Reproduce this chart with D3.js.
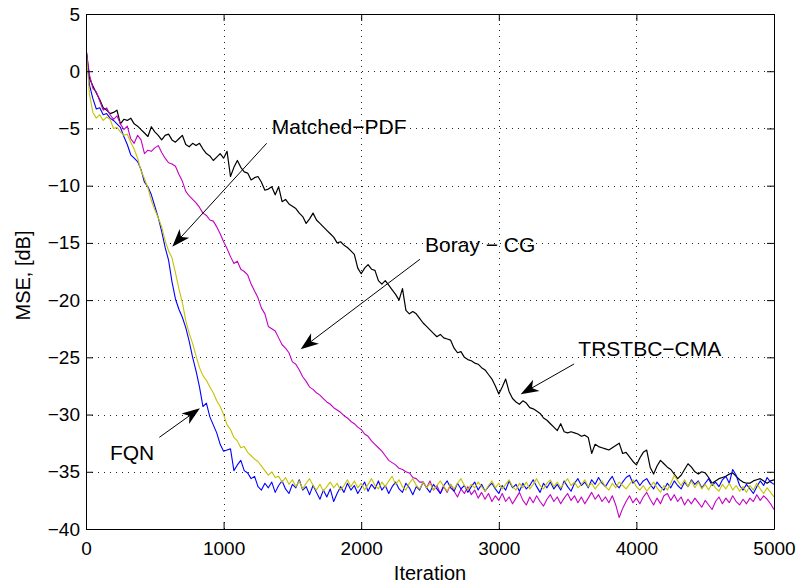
<!DOCTYPE html>
<html>
<head>
<meta charset="utf-8">
<script src="https://cdn.jsdelivr.net/npm/d3@7"></script>
<style>
  html, body { margin: 0; padding: 0; background: #fff; }
  svg { display: block; font-family: "Liberation Sans", Arial, Helvetica, sans-serif; }
</style>
</head>
<body>
<svg id="chart" width="800" height="585"></svg>
<script>
// Iteration spacing between stored MSE samples
const step = 25;

// MSE in dB, one value every `step` iterations (0 … 5000)
const trstbcCma = [
  2.0, -0.6, -1.3, -1.9, -2.5, -3.2, -3.4, -3.7, -3.6, -3.4,
  -4.6, -4.2, -4.3, -4.1, -4.6, -4.8, -5.1, -5.4, -5.7, -4.85,
  -5.3, -5.6, -6.0, -5.6, -5.5, -6.0, -6.2, -5.9, -5.6, -6.4,
  -6.6, -6.3, -6.5, -6.3, -6.8, -7.2, -7.4, -7.8, -7.5, -7.2,
  -7.6, -7.0, -9.2, -8.4, -7.8, -8.4, -8.8, -8.9, -9.5, -9.3,
  -9.2, -9.7, -10.4, -10.3, -10.1, -10.8, -10.1, -11.4, -11.2, -11.6,
  -11.8, -12.0, -12.4, -12.7, -13.3, -12.9, -12.4, -13.0, -13.3, -13.6,
  -13.9, -14.2, -14.5, -15.0, -14.9, -15.2, -15.4, -15.7, -16.0, -17.2,
  -17.7, -17.2, -16.9, -17.3, -17.4, -18.3, -18.6, -18.3, -18.7, -19.1,
  -19.5, -20.0, -19.0, -20.9, -21.2, -21.0, -21.2, -21.6, -22.0, -22.3,
  -22.6, -22.9, -23.2, -23.0, -23.3, -23.4, -23.5, -24.2, -24.6, -24.5,
  -25.0, -25.2, -25.3, -25.5, -25.6, -25.9, -26.1, -26.5, -26.9, -27.5,
  -28.2, -27.6, -26.9, -28.0, -28.6, -28.9, -29.1, -28.8, -29.0, -29.4,
  -29.5, -29.7, -29.9, -30.3, -30.5, -30.8, -31.1, -31.4, -30.8, -31.5,
  -31.6, -31.5, -31.6, -31.7, -31.9, -31.8, -32.0, -33.4, -32.6, -32.8,
  -32.9, -33.0, -33.1, -32.9, -32.7, -32.5, -33.4, -33.3, -33.7, -34.1,
  -34.4, -33.8, -33.3, -33.1, -34.6, -35.2, -34.5, -34.0, -34.3, -34.6,
  -34.8, -35.2, -35.6, -35.3, -34.8, -34.3, -34.6, -35.0, -35.2, -35.0,
  -35.1, -35.5, -36.0, -35.8, -35.6, -35.5, -35.4, -35.2, -35.1, -35.4,
  -35.7, -35.9, -36.0, -36.0, -35.8, -35.7, -35.6, -35.8, -36.0, -35.8,
  -35.7
];

const borayCg = [
  2.0, -0.3, -1.5, -1.8, -2.6, -3.4, -3.2, -3.8, -4.2, -3.9,
  -4.6, -5.1, -4.8, -5.9, -6.3, -5.6, -6.0, -7.2, -6.9, -7.0,
  -6.7, -6.5, -7.1, -7.6, -8.0, -8.1, -8.3, -9.0, -9.6, -10.5,
  -10.9, -11.2, -11.5, -11.9, -12.4, -12.6, -13.0, -13.1, -13.6, -14.2,
  -14.9, -15.5, -16.2, -16.8, -16.6, -17.3, -17.5, -17.8, -18.6, -19.2,
  -19.8, -20.7, -21.2, -22.3, -22.5, -22.7, -23.3, -23.9, -24.2, -24.6,
  -25.4, -25.6, -26.1, -26.7, -27.1, -27.6, -27.8, -28.1, -28.3, -28.6,
  -28.9, -29.1, -29.4, -29.6, -29.8, -30.1, -30.3, -30.6, -30.8, -31.1,
  -31.3, -31.7, -31.9, -32.3, -32.6, -32.9, -33.2, -33.6, -34.0, -34.2,
  -34.4, -34.7, -34.8, -35.0, -35.1, -35.5, -35.6, -35.9, -35.9, -36.4,
  -35.8, -36.6, -36.2, -36.9, -36.3, -36.8, -36.1, -36.7, -37.2, -36.5,
  -36.9, -36.3, -37.0, -36.6, -37.3, -36.8, -37.4, -36.9, -37.6, -37.1,
  -37.5, -36.9, -37.6, -37.2, -37.8, -37.3, -36.8, -37.5, -37.9, -37.2,
  -37.7, -37.1, -37.6, -38.0, -37.4, -37.0, -37.6, -37.2, -37.8, -37.3,
  -36.9, -37.5, -37.1, -37.7, -37.2, -37.8, -37.3, -36.8, -37.4, -37.0,
  -37.6, -37.2, -37.7, -37.1, -37.9, -39.0, -38.2, -37.6, -37.1, -37.7,
  -37.3, -37.8, -37.2, -36.8, -37.4, -37.9, -37.3, -37.8, -37.1, -36.9,
  -37.5, -37.0, -37.6, -37.2, -37.9, -37.4, -37.8, -37.3, -37.7, -38.1,
  -37.5, -37.9, -38.3, -37.6, -37.2, -37.8, -37.3, -37.7, -37.1, -37.6,
  -37.9, -37.4, -37.8, -37.3, -37.6, -37.0, -37.5, -37.1, -37.4, -37.8,
  -38.3
];

const matchedPdf = [
  2.0, -2.0, -3.6, -4.1, -3.8, -4.3, -4.0, -4.2, -5.0, -4.9,
  -5.3, -5.6, -5.5, -6.2, -6.8, -7.6, -8.7, -9.4, -10.2, -11.3,
  -12.1, -12.8, -13.6, -14.8, -15.7, -16.3, -17.6, -19.0, -20.2, -21.8,
  -22.9, -23.8, -24.9, -25.9, -26.6, -27.0, -27.6, -28.1, -28.8, -29.3,
  -30.0, -30.9, -31.3, -32.0, -32.3, -32.9, -32.8, -33.3, -33.6, -33.9,
  -34.1, -34.5, -34.9, -35.3, -35.0, -35.5, -35.4, -35.9, -35.5, -36.1,
  -35.7, -36.3, -35.8, -36.5, -36.0, -35.6, -36.2, -36.6, -36.1, -36.7,
  -36.3, -35.9, -36.4, -36.0, -36.6, -36.2, -35.7, -36.3, -35.8, -36.4,
  -36.0, -36.6, -36.1, -35.6, -36.2, -36.5, -35.9, -36.3, -35.8, -35.4,
  -36.1, -35.7, -36.3, -36.6, -36.0, -35.6, -36.2, -36.5, -35.9, -36.4,
  -36.0, -36.6, -36.2, -35.8, -36.3, -36.7, -36.1, -36.5, -36.0, -35.6,
  -36.2, -36.6, -36.1, -36.4, -35.9, -36.3, -36.7, -36.2, -35.8, -36.4,
  -36.0, -36.5, -36.1, -35.7, -36.3, -36.6, -36.0, -36.4, -35.9, -36.5,
  -36.1, -35.6, -36.2, -36.5, -36.0, -35.7, -36.3, -35.9, -36.4, -36.0,
  -35.6, -36.2, -35.9, -36.4, -36.1, -35.7, -36.3, -36.0, -36.5, -36.1,
  -35.8, -36.3, -36.6, -36.0, -36.4, -35.9, -36.2, -36.5, -36.1, -35.7,
  -36.3, -36.6, -36.2, -36.7, -36.3, -35.9, -36.4, -36.8, -36.2, -36.6,
  -36.0, -35.3, -35.8, -36.2, -35.7, -36.3, -35.8, -36.4, -35.9, -36.5,
  -36.1, -36.6, -36.0, -36.4, -36.7, -36.1, -36.5, -36.0, -36.6, -36.2,
  -36.7, -36.3, -36.8, -36.2, -36.6, -36.0, -36.5, -36.9, -36.4, -36.8,
  -37.2
];

const fqn = [
  2.0, -1.2, -2.4, -3.3, -3.2, -3.8, -3.7, -4.1, -4.3, -4.6,
  -4.9, -5.7, -6.4, -7.3, -7.6, -7.9, -8.6, -9.7, -10.1, -10.8,
  -11.8, -12.8, -14.0, -15.4, -16.5, -18.4, -19.9, -20.8, -21.5, -22.4,
  -23.6, -25.0, -26.2, -27.6, -29.3, -29.0, -30.2, -30.9, -31.6, -32.6,
  -33.2, -33.1, -33.0, -34.9, -34.4, -34.0, -34.9, -35.1, -35.6, -35.4,
  -36.3, -36.6, -36.0, -36.4, -35.9, -36.8, -36.2, -35.8, -36.5, -36.9,
  -36.1, -36.4, -35.7, -36.6, -36.3, -37.0, -36.2, -36.8, -37.4, -36.6,
  -37.2, -36.5, -37.6, -36.9, -36.3, -36.8, -36.0, -36.6, -36.2, -36.9,
  -36.4, -35.9, -36.7, -36.1, -36.5, -35.8, -36.6, -36.2, -36.9, -36.3,
  -35.9, -36.5, -36.8, -36.0, -36.4, -37.0, -36.3, -36.6, -35.9, -36.4,
  -36.8, -36.1, -36.5, -36.9, -36.2, -35.8, -36.4, -36.7, -36.0, -36.5,
  -36.2, -36.8, -36.3, -35.9, -36.6, -36.1, -36.7, -36.3, -36.0, -36.5,
  -36.9, -36.2, -36.6, -35.8, -36.4, -36.1, -36.7, -36.0, -36.5, -36.2,
  -35.7, -36.3, -36.8, -36.0, -36.4, -35.9, -36.5, -36.1, -36.6, -35.8,
  -36.3, -36.7, -36.0, -35.6, -36.2, -35.9, -36.4, -35.7, -36.1, -35.5,
  -36.0, -36.3, -35.8, -35.4, -36.1, -36.4, -35.9, -35.5, -35.3, -36.0,
  -35.7, -36.2, -35.8, -35.6, -36.1, -36.5, -35.9, -36.3, -36.6, -36.0,
  -36.4, -35.8, -36.2, -36.5, -35.9, -36.3, -35.7, -36.1, -35.8, -36.4,
  -36.0, -35.6, -36.2, -35.9, -36.3, -35.7, -35.4, -36.0, -34.8, -35.3,
  -36.2, -36.6, -36.1, -36.5, -36.9, -36.3, -35.8, -36.2, -35.5, -35.9,
  -36.1
];

const xTicks = [0, 1000, 2000, 3000, 4000, 5000];
const yTicks = [-40, -35, -30, -25, -20, -15, -10, -5, 0, 5];

// Curves, drawn back to front
const series = [
  { name: "TRSTBC\u2212CMA", values: trstbcCma, color: "#000000", width: 1.2 },
  { name: "Boray \u2212 CG", values: borayCg, color: "#c400c4", width: 1.1 },
  { name: "FQN", values: fqn, color: "#0000ff", width: 1.1 },
  { name: "Matched\u2212PDF", values: matchedPdf, color: "#c4c400", width: 1.1 }
];

// Text labels with their arrows (iteration, dB)
const annotations = [
  { text: "Matched\u2212PDF", at: [1350, -5.49], from: [1313, -6.30], to: [627, -15.33] },
  { text: "Boray \u2212 CG",  at: [2464, -15.77], from: [2427, -16.43], to: [1560, -24.30] },
  { text: "TRSTBC\u2212CMA",  at: [3578, -24.88], from: [3547, -25.58], to: [3159, -28.23] },
  { text: "FQN",              at: [174, -33.97], from: [533, -31.99], to: [828, -29.45] }
];

const plot = { left: 86, right: 774, top: 14, bottom: 529 };

const x = d3.scaleLinear().domain([0, 5000]).range([plot.left, plot.right]);
const y = d3.scaleLinear().domain([-40, 5]).range([plot.bottom, plot.top]);

const svg = d3.select("#chart");

svg.append("defs").append("clipPath").attr("id", "plot-clip")
  .append("rect")
  .attr("x", plot.left).attr("y", plot.top)
  .attr("width", plot.right - plot.left).attr("height", plot.bottom - plot.top);

// Dotted grid
const grid = svg.append("g").attr("stroke", "#222").attr("stroke-width", 1)
  .attr("stroke-dasharray", "1,5").attr("shape-rendering", "crispEdges");
grid.selectAll("line.gx").data(xTicks.filter(t => t > 0 && t < 5000)).join("line")
  .attr("class", "gx")
  .attr("x1", d => Math.round(x(d)) + 0.5).attr("x2", d => Math.round(x(d)) + 0.5)
  .attr("y1", plot.bottom).attr("y2", plot.top);
grid.selectAll("line.gy").data(yTicks.filter(t => t > -40 && t < 5)).join("line")
  .attr("class", "gy")
  .attr("y1", d => Math.round(y(d)) + 0.5).attr("y2", d => Math.round(y(d)) + 0.5)
  .attr("x1", plot.left).attr("x2", plot.right);

// MSE curves
const line = d3.line().x((d, i) => x(i * step)).y(d => y(d));
svg.append("g").attr("clip-path", "url(#plot-clip)")
  .selectAll("path").data(series).join("path")
  .attr("fill", "none")
  .attr("stroke", d => d.color)
  .attr("stroke-width", d => d.width)
  .attr("stroke-linejoin", "round")
  .attr("d", d => line(d.values));

// Axes with inward ticks on all four sides
const tickFont = 19;
const plain = d3.format("d");
const minusFmt = d => plain(d);
const styleAxis = g => {
  g.attr("font-size", tickFont).attr("font-family", null);
  g.selectAll("path.domain").attr("stroke", "#000").attr("stroke-width", 1);
  g.selectAll(".tick line").attr("stroke", "#000").attr("stroke-width", 1);
  g.selectAll(".tick text").attr("fill", "#000");
};

svg.append("g").attr("transform", `translate(0,${plot.bottom})`)
  .call(d3.axisBottom(x).tickValues(xTicks).tickFormat(minusFmt)
    .tickSizeInner(-7).tickSizeOuter(0).tickPadding(12.5))
  .call(styleAxis);
svg.append("g").attr("transform", `translate(0,${plot.top})`)
  .call(d3.axisTop(x).tickValues(xTicks).tickSizeInner(-7).tickSizeOuter(0).tickFormat(""))
  .call(styleAxis);
svg.append("g").attr("transform", `translate(${plot.left},0)`)
  .call(d3.axisLeft(y).tickValues(yTicks).tickFormat(minusFmt)
    .tickSizeInner(-7).tickSizeOuter(0).tickPadding(6))
  .call(styleAxis);
svg.append("g").attr("transform", `translate(${plot.right},0)`)
  .call(d3.axisRight(y).tickValues(yTicks).tickSizeInner(-7).tickSizeOuter(0).tickFormat(""))
  .call(styleAxis);

// Axis titles
svg.append("text")
  .attr("x", (plot.left + plot.right) / 2).attr("y", 580)
  .attr("text-anchor", "middle").attr("font-size", 20).text("Iteration");
svg.append("text")
  .attr("transform", `translate(30,${(plot.top + plot.bottom) / 2 + 4}) rotate(-90)`)
  .attr("text-anchor", "middle").attr("font-size", 20).text("MSE, [dB]");

// Annotation arrows and labels
const ann = svg.append("g");
annotations.forEach(a => {
  const x0 = x(a.from[0]), y0 = y(a.from[1]);
  const x1 = x(a.to[0]), y1 = y(a.to[1]);
  const len = Math.hypot(x1 - x0, y1 - y0);
  const ux = (x1 - x0) / len, uy = (y1 - y0) / len;
  const nx = -uy, ny = ux;
  const L = 18, Wd = 13, notch = 0.72;
  ann.append("line")
    .attr("x1", x0).attr("y1", y0)
    .attr("x2", x1 - ux * L * notch).attr("y2", y1 - uy * L * notch)
    .attr("stroke", "#000").attr("stroke-width", 1);
  const pts = [
    [x1, y1],
    [x1 - ux * L + nx * Wd / 2, y1 - uy * L + ny * Wd / 2],
    [x1 - ux * L * notch, y1 - uy * L * notch],
    [x1 - ux * L - nx * Wd / 2, y1 - uy * L - ny * Wd / 2]
  ];
  ann.append("path").attr("d", "M" + pts.map(p => p.join(",")).join("L") + "Z")
    .attr("fill", "#000");
  ann.append("text")
    .attr("x", x(a.at[0])).attr("y", y(a.at[1]))
    .attr("font-size", 21).attr("fill", "#000").text(a.text);
});
</script>
</body>
</html>
